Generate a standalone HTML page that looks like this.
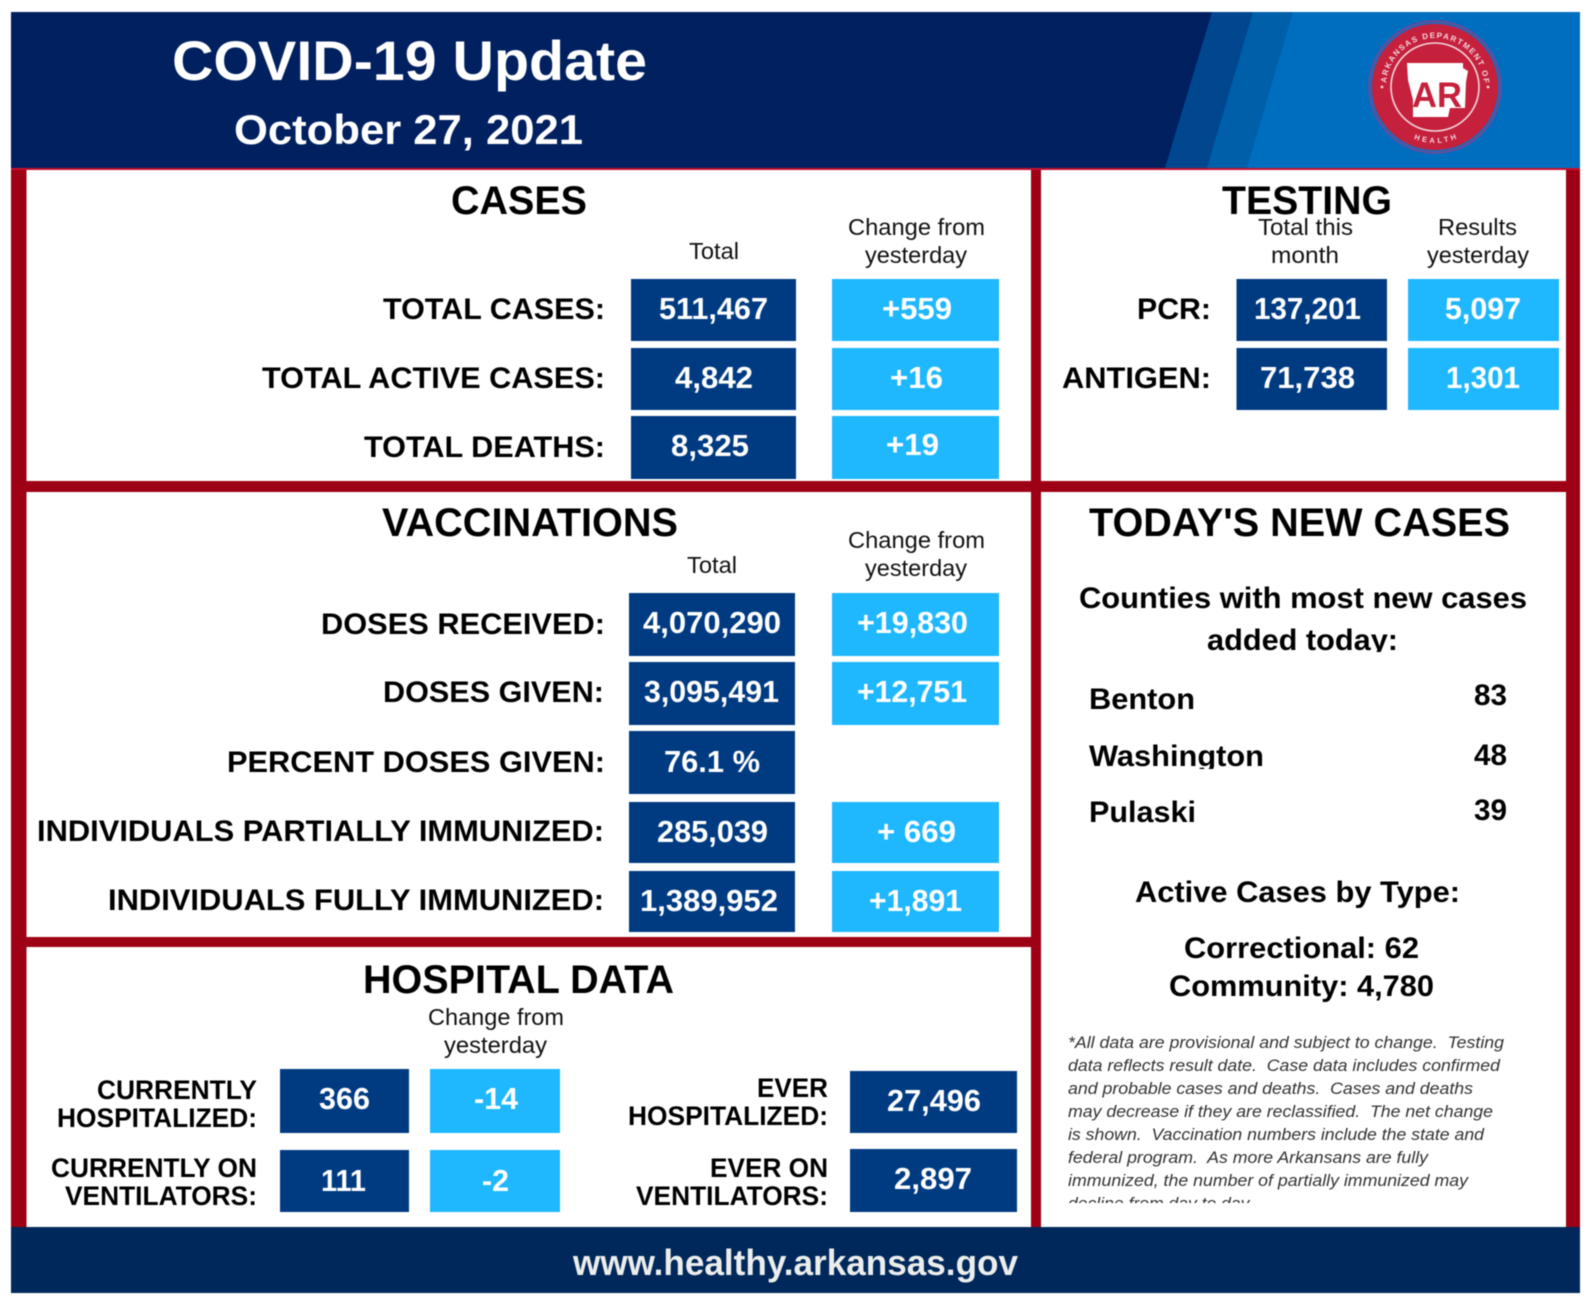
<!DOCTYPE html>
<html lang="en">
<head>
<meta charset="utf-8">
<title>COVID-19 Update</title>
<style>
html,body{margin:0;padding:0;background:#fff;width:1593px;height:1301px;overflow:hidden}
svg{display:block;filter:blur(0.45px)}
text{font-family:"Liberation Sans",Arial,sans-serif}
.h{font-size:40px;font-weight:700;fill:#000}
.s{font-size:23px;fill:#111}
.l{font-size:30px;font-weight:700;fill:#000}
.hl{font-size:26.5px;font-weight:700;fill:#000}
.v{font-size:31px;font-weight:700;fill:#fff}
.c{font-size:30px;font-weight:700;fill:#000}
.f{font-size:16.5px;font-style:italic;fill:#333}
.d{fill:#003b82}
.b{fill:#1fb8ff}
.r{fill:#9e0016}
</style>
</head>
<body>
<svg width="1593" height="1301" viewBox="0 0 1593 1301" xmlns="http://www.w3.org/2000/svg">
<rect x="0" y="0" width="1593" height="1301" fill="#fff"/>

<g>
<rect class="r" x="11" y="168" width="15.5" height="1060"/>
<rect class="r" x="1566" y="168" width="14" height="1060"/>
<rect class="r" x="1031" y="168" width="10" height="1060"/>
<rect class="r" x="26" y="481" width="1540" height="11"/>
<rect class="r" x="26" y="937" width="1005" height="10"/>
<rect x="11" y="168" width="1569" height="2" fill="#c8102e"/>
</g>

<g>
<rect x="11" y="12" width="1569" height="156" fill="#002060"/>
<polygon points="1212,12 1580,12 1580,168 1165,168" fill="#00478f"/>
<polygon points="1253,12 1580,12 1580,168 1207,168" fill="#005fa9"/>
<polygon points="1293,12 1580,12 1580,168 1247,168" fill="#006ebf"/>
<text x="172" y="80" font-size="56" font-weight="700" fill="#fff" textLength="475" lengthAdjust="spacingAndGlyphs">COVID-19 Update</text>
<text x="234" y="144" font-size="42" font-weight="700" fill="#fff" textLength="349" lengthAdjust="spacingAndGlyphs">October 27, 2021</text>
</g>

<g>
<circle cx="1435" cy="87" r="66" fill="#2f62b0" stroke="#6f4a98" stroke-width="1.5"/>
<circle cx="1435" cy="87" r="63" fill="#c5203c"/>
<circle cx="1435" cy="87" r="44" fill="none" stroke="#f3d6da" stroke-width="1.6"/>
<polygon points="1407,63 1463,63 1463,68 1468,71 1466,82 1465,108 1450,108 1448,117 1413,117 1413,100 1408,80" fill="#fff"/>
<text x="1412" y="107" font-size="35" font-weight="700" fill="#c5203c" textLength="50" lengthAdjust="spacingAndGlyphs">AR</text>
<defs>
<path id="logoTop" d="M 1386 87 A 49 49 0 0 1 1484 87"/>
<path id="logoBottom" d="M 1400 130.7 A 56 56 0 0 0 1470 130.7"/>
</defs>
<text font-size="8" font-weight="700" fill="#f3d6da"><textPath href="#logoTop" startOffset="4" textLength="146" lengthAdjust="spacing">ARKANSAS DEPARTMENT OF</textPath></text>
<text font-size="7.5" font-weight="700" fill="#f3d6da"><textPath href="#logoBottom" startOffset="16" textLength="44" lengthAdjust="spacing">HEALTH</textPath></text>
<circle cx="1382" cy="87" r="1.4" fill="#f3d6da"/>
<circle cx="1488" cy="87" r="1.4" fill="#f3d6da"/>
</g>

<g>
<text class="h" x="451" y="214" textLength="136" lengthAdjust="spacingAndGlyphs">CASES</text>
<text class="s" x="689" y="259" textLength="50" lengthAdjust="spacingAndGlyphs">Total</text>
<text class="s" x="848" y="235" textLength="137" lengthAdjust="spacingAndGlyphs">Change from</text>
<text class="s" x="865" y="263" textLength="102" lengthAdjust="spacingAndGlyphs">yesterday</text>
<text class="l" x="383" y="319" textLength="222" lengthAdjust="spacingAndGlyphs">TOTAL CASES:</text>
<text class="l" x="262" y="388" textLength="343" lengthAdjust="spacingAndGlyphs">TOTAL ACTIVE CASES:</text>
<text class="l" x="364" y="457" textLength="241" lengthAdjust="spacingAndGlyphs">TOTAL DEATHS:</text>
<rect class="d" x="631" y="279" width="165" height="62"/>
<rect class="d" x="631" y="348" width="165" height="62"/>
<rect class="d" x="631" y="416" width="165" height="63"/>
<rect class="b" x="832" y="279" width="167" height="62"/>
<rect class="b" x="832" y="348" width="167" height="62"/>
<rect class="b" x="832" y="416" width="167" height="63"/>
<text class="v" x="659" y="319" textLength="109" lengthAdjust="spacingAndGlyphs">511,467</text>
<text class="v" x="675" y="388" textLength="78" lengthAdjust="spacingAndGlyphs">4,842</text>
<text class="v" x="671" y="456" textLength="78" lengthAdjust="spacingAndGlyphs">8,325</text>
<text class="v" x="882" y="319" textLength="70" lengthAdjust="spacingAndGlyphs">+559</text>
<text class="v" x="890" y="388" textLength="53" lengthAdjust="spacingAndGlyphs">+16</text>
<text class="v" x="886" y="455" textLength="53" lengthAdjust="spacingAndGlyphs">+19</text>
</g>

<g>
<text class="h" x="1222" y="214" textLength="170" lengthAdjust="spacingAndGlyphs">TESTING</text>
<text class="s" x="1258" y="235" textLength="95" lengthAdjust="spacingAndGlyphs">Total this</text>
<text class="s" x="1271" y="263" textLength="68" lengthAdjust="spacingAndGlyphs">month</text>
<text class="s" x="1438" y="235" textLength="79" lengthAdjust="spacingAndGlyphs">Results</text>
<text class="s" x="1427" y="263" textLength="102" lengthAdjust="spacingAndGlyphs">yesterday</text>
<text class="l" x="1137" y="319" textLength="74" lengthAdjust="spacingAndGlyphs">PCR:</text>
<text class="l" x="1062" y="388" textLength="149" lengthAdjust="spacingAndGlyphs">ANTIGEN:</text>
<rect class="d" x="1236.5" y="279" width="150.5" height="62"/>
<rect class="d" x="1236.5" y="348" width="150.5" height="62"/>
<rect class="b" x="1408" y="279" width="151" height="62"/>
<rect class="b" x="1408" y="348" width="151" height="62"/>
<text class="v" x="1254" y="319" textLength="107" lengthAdjust="spacingAndGlyphs">137,201</text>
<text class="v" x="1260" y="388" textLength="95" lengthAdjust="spacingAndGlyphs">71,738</text>
<text class="v" x="1445" y="319" textLength="76" lengthAdjust="spacingAndGlyphs">5,097</text>
<text class="v" x="1446" y="388" textLength="74" lengthAdjust="spacingAndGlyphs">1,301</text>
</g>

<g>
<text class="h" x="382" y="536" textLength="296" lengthAdjust="spacingAndGlyphs">VACCINATIONS</text>
<text class="s" x="687" y="573" textLength="50" lengthAdjust="spacingAndGlyphs">Total</text>
<text class="s" x="848" y="548" textLength="137" lengthAdjust="spacingAndGlyphs">Change from</text>
<text class="s" x="865" y="576" textLength="102" lengthAdjust="spacingAndGlyphs">yesterday</text>
<text class="l" x="321" y="634" textLength="284" lengthAdjust="spacingAndGlyphs">DOSES RECEIVED:</text>
<text class="l" x="383" y="702" textLength="221" lengthAdjust="spacingAndGlyphs">DOSES GIVEN:</text>
<text class="l" x="227" y="772" textLength="378" lengthAdjust="spacingAndGlyphs">PERCENT DOSES GIVEN:</text>
<text class="l" x="37" y="841" textLength="567" lengthAdjust="spacingAndGlyphs">INDIVIDUALS PARTIALLY IMMUNIZED:</text>
<text class="l" x="108" y="910" textLength="496" lengthAdjust="spacingAndGlyphs">INDIVIDUALS FULLY IMMUNIZED:</text>
<rect class="d" x="629" y="593" width="166" height="63"/>
<rect class="d" x="629" y="662" width="166" height="63"/>
<rect class="d" x="629" y="731" width="166" height="63"/>
<rect class="d" x="629" y="802" width="166" height="61"/>
<rect class="d" x="629" y="871" width="166" height="61"/>
<rect class="b" x="832" y="593" width="167" height="63"/>
<rect class="b" x="832" y="662" width="167" height="63"/>
<rect class="b" x="832" y="802" width="167" height="61"/>
<rect class="b" x="832" y="871" width="167" height="61"/>
<text class="v" x="643" y="633" textLength="138" lengthAdjust="spacingAndGlyphs">4,070,290</text>
<text class="v" x="644" y="702" textLength="135" lengthAdjust="spacingAndGlyphs">3,095,491</text>
<text class="v" x="664" y="772" textLength="96" lengthAdjust="spacingAndGlyphs">76.1 %</text>
<text class="v" x="657" y="842" textLength="111" lengthAdjust="spacingAndGlyphs">285,039</text>
<text class="v" x="640" y="911" textLength="138" lengthAdjust="spacingAndGlyphs">1,389,952</text>
<text class="v" x="857" y="633" textLength="111" lengthAdjust="spacingAndGlyphs">+19,830</text>
<text class="v" x="857" y="702" textLength="110" lengthAdjust="spacingAndGlyphs">+12,751</text>
<text class="v" x="877" y="842" textLength="79" lengthAdjust="spacingAndGlyphs">+ 669</text>
<text class="v" x="869" y="911" textLength="93" lengthAdjust="spacingAndGlyphs">+1,891</text>
</g>

<g>
<text class="h" x="363" y="993" textLength="311" lengthAdjust="spacingAndGlyphs">HOSPITAL DATA</text>
<text class="s" x="428" y="1025" textLength="136" lengthAdjust="spacingAndGlyphs">Change from</text>
<text class="s" x="444" y="1053" textLength="103" lengthAdjust="spacingAndGlyphs">yesterday</text>
<text class="hl" x="97" y="1099" textLength="160" lengthAdjust="spacingAndGlyphs">CURRENTLY</text>
<text class="hl" x="57" y="1127" textLength="200" lengthAdjust="spacingAndGlyphs">HOSPITALIZED:</text>
<text class="hl" x="51" y="1177" textLength="206" lengthAdjust="spacingAndGlyphs">CURRENTLY ON</text>
<text class="hl" x="65" y="1205" textLength="192" lengthAdjust="spacingAndGlyphs">VENTILATORS:</text>
<rect class="d" x="280" y="1069" width="129" height="64"/>
<rect class="d" x="280" y="1150" width="129" height="62"/>
<rect class="b" x="430" y="1069" width="130" height="64"/>
<rect class="b" x="430" y="1150" width="130" height="62"/>
<text class="v" x="319" y="1109" textLength="51" lengthAdjust="spacingAndGlyphs">366</text>
<text class="v" x="321" y="1191" textLength="45" lengthAdjust="spacingAndGlyphs">111</text>
<text class="v" x="474" y="1109" textLength="44" lengthAdjust="spacingAndGlyphs">-14</text>
<text class="v" x="482" y="1191" textLength="27" lengthAdjust="spacingAndGlyphs">-2</text>
<text class="hl" x="757" y="1097" textLength="71" lengthAdjust="spacingAndGlyphs">EVER</text>
<text class="hl" x="628" y="1125" textLength="200" lengthAdjust="spacingAndGlyphs">HOSPITALIZED:</text>
<text class="hl" x="710" y="1177" textLength="118" lengthAdjust="spacingAndGlyphs">EVER ON</text>
<text class="hl" x="636" y="1205" textLength="192" lengthAdjust="spacingAndGlyphs">VENTILATORS:</text>
<rect class="d" x="850" y="1071" width="167" height="62"/>
<rect class="d" x="850" y="1149" width="167" height="63"/>
<text class="v" x="887" y="1111" textLength="94" lengthAdjust="spacingAndGlyphs">27,496</text>
<text class="v" x="894" y="1189" textLength="78" lengthAdjust="spacingAndGlyphs">2,897</text>
</g>

<g>
<text class="h" x="1089" y="536" textLength="421" lengthAdjust="spacingAndGlyphs">TODAY'S NEW CASES</text>
<text class="c" x="1079" y="608" textLength="448" lengthAdjust="spacingAndGlyphs">Counties with most new cases</text>
<text class="c" x="1207" y="650" textLength="191" lengthAdjust="spacingAndGlyphs">added today:</text>
<rect x="1200" y="652" width="210" height="10" fill="#fff"/>
<text class="c" x="1089" y="709" textLength="106" lengthAdjust="spacingAndGlyphs">Benton</text>
<text class="c" x="1089" y="766" textLength="175" lengthAdjust="spacingAndGlyphs">Washington</text>
<rect x="1085" y="769" width="190" height="9" fill="#fff"/>
<text class="c" x="1089" y="822" textLength="107" lengthAdjust="spacingAndGlyphs">Pulaski</text>
<text class="c" x="1474" y="705" textLength="33" lengthAdjust="spacingAndGlyphs">83</text>
<text class="c" x="1474" y="765" textLength="33" lengthAdjust="spacingAndGlyphs">48</text>
<text class="c" x="1474" y="820" textLength="33" lengthAdjust="spacingAndGlyphs">39</text>
<text class="c" x="1135" y="902" textLength="325" lengthAdjust="spacingAndGlyphs">Active Cases by Type:</text>
<text class="c" x="1184" y="958" textLength="235" lengthAdjust="spacingAndGlyphs">Correctional: 62</text>
<text class="c" x="1169" y="996" textLength="265" lengthAdjust="spacingAndGlyphs">Community: 4,780</text>
<g>
<text class="f" x="1068" y="1048" textLength="436" lengthAdjust="spacingAndGlyphs" xml:space="preserve">*All data are provisional and subject to change.  Testing</text>
<text class="f" x="1068" y="1071" textLength="432" lengthAdjust="spacingAndGlyphs" xml:space="preserve">data reflects result date.  Case data includes confirmed</text>
<text class="f" x="1068" y="1094" textLength="405" lengthAdjust="spacingAndGlyphs" xml:space="preserve">and probable cases and deaths.  Cases and deaths</text>
<text class="f" x="1068" y="1117" textLength="425" lengthAdjust="spacingAndGlyphs" xml:space="preserve">may decrease if they are reclassified.  The net change</text>
<text class="f" x="1068" y="1140" textLength="416" lengthAdjust="spacingAndGlyphs" xml:space="preserve">is shown.  Vaccination numbers include the state and</text>
<text class="f" x="1068" y="1163" textLength="360" lengthAdjust="spacingAndGlyphs" xml:space="preserve">federal program.  As more Arkansans are fully</text>
<text class="f" x="1068" y="1186" textLength="400" lengthAdjust="spacingAndGlyphs" xml:space="preserve">immunized, the number of partially immunized may</text>
<text class="f" x="1068" y="1209" textLength="185" lengthAdjust="spacingAndGlyphs">decline from day to day.</text>
<rect x="1060" y="1203" width="300" height="14" fill="#fff"/>
</g>
</g>

<g>
<rect x="11" y="1227" width="1569" height="66" fill="#00285a"/>
<text x="573" y="1275" font-size="36" font-weight="700" fill="#eceeec" textLength="445" lengthAdjust="spacingAndGlyphs">www.healthy.arkansas.gov</text>
</g>
</svg>
</body>
</html>
